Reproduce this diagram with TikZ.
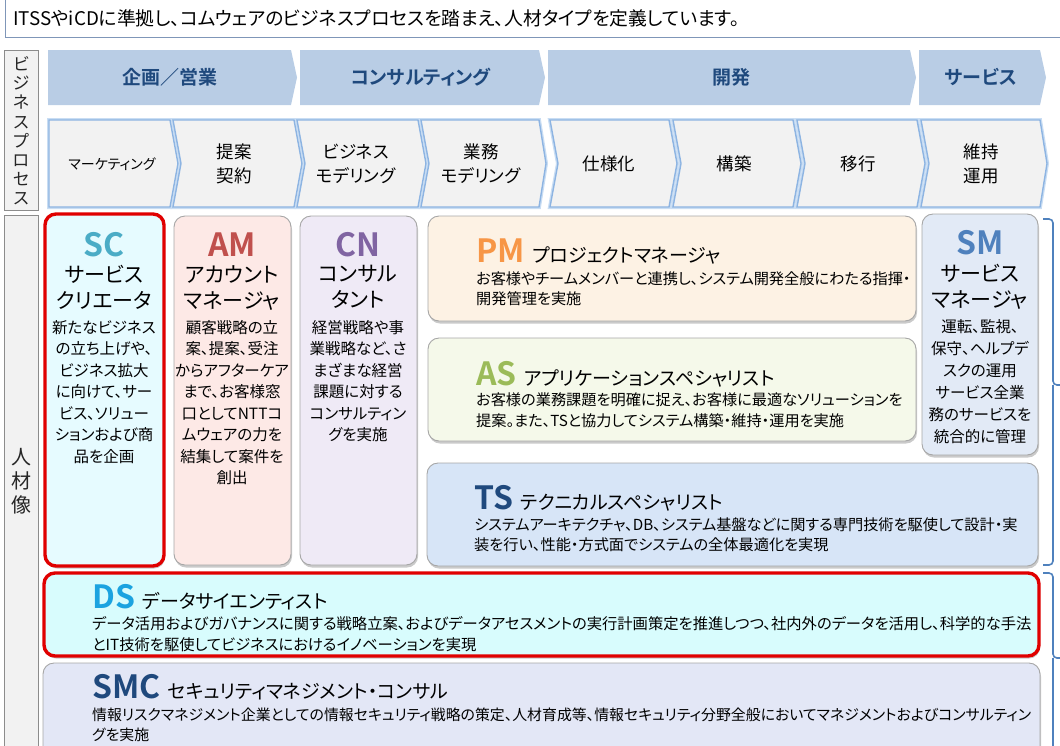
\documentclass[tikz,border=0pt]{standalone}
\usepackage{fontspec}
\setmainfont{Noto Sans CJK JP}[RawFeature=+palt, BoldFont={Noto Sans CJK JP Bold}]
\usetikzlibrary{shadows}
\definecolor{phasefill}{HTML}{B9CDE5}
\definecolor{phaseink}{HTML}{1F497D}
\definecolor{stepfill}{HTML}{F2F2F2}
\definecolor{stepglow}{HTML}{8DB4E2}
\definecolor{stepglowb}{HTML}{C9DDF3}
\definecolor{sidefill}{HTML}{F2F2F2}
\definecolor{sideedge}{HTML}{8C8C8C}
\definecolor{boxedge}{HTML}{A6A6A6}
\definecolor{redline}{HTML}{E00000}
\definecolor{introedge}{HTML}{7F96B8}
\definecolor{braceblue}{HTML}{4F81BD}
\definecolor{scfill}{HTML}{E6FBFF}
\definecolor{amfill}{HTML}{FDE9E6}
\definecolor{cnfill}{HTML}{EFEAF6}
\definecolor{pmfill}{HTML}{FDF2E4}
\definecolor{asfill}{HTML}{F5F9EA}
\definecolor{smfill}{HTML}{E2EAF6}
\definecolor{tsfill}{HTML}{D7E5F7}
\definecolor{dsfill}{HTML}{D8FCFD}
\definecolor{smcfill}{HTML}{E3E7F6}
\definecolor{sccol}{HTML}{4BACC6}
\definecolor{amcol}{HTML}{C0504D}
\definecolor{cncol}{HTML}{8064A2}
\definecolor{pmcol}{HTML}{F79646}
\definecolor{ascol}{HTML}{9BBB59}
\definecolor{smcol}{HTML}{4F81BD}
\definecolor{tscol}{HTML}{1F497D}
\definecolor{dscol}{HTML}{1BA3E0}
\definecolor{smccol}{HTML}{1F497D}
\begin{document}
\begin{tikzpicture}[x=1pt,y=-1pt,
  jp/.style={inner sep=0pt, text=black},
  phasechev/.style={fill=phasefill},
  phaselbl/.style={jp, text=phaseink, font=\bfseries\fontsize{19}{22}\selectfont},
  stepchev/.style={fill=stepfill, draw=stepglow, line width=1.4pt, line join=miter,
     preaction={draw=stepglowb, line width=4pt}},
  steplbl/.style={jp, align=center, font=\fontsize{17.5}{24}\selectfont},
  sidebox/.style={fill=sidefill, draw=sideedge, line width=0.9pt},
  sidelbl/.style={jp, align=center, text=black!85},
  pbox/.style={rounded corners=11pt, draw=boxedge, line width=0.9pt,
     drop shadow={shadow xshift=1pt, shadow yshift=-2.5pt, opacity=0.35, fill=black!60}},
  redbox/.style={pbox, draw=redline, line width=3.4pt},
  ttl/.style={jp, font=\bfseries\fontsize{32}{32}\selectfont},
  nm/.style={jp, align=center, font=\fontsize{21}{26}\selectfont},
  dsc/.style={jp, align=center, font=\fontsize{15.5}{21.5}\selectfont},
  inm/.style={jp, font=\fontsize{19}{19}\selectfont},
  idsc/.style={jp, align=left, font=\fontsize{15.2}{20.5}\selectfont},
  bracestyle/.style={draw=braceblue, line width=1.6pt, rounded corners=4pt}
]
\useasboundingbox (0,0) rectangle (1060,745);
\clip (0,0) rectangle (1060,745);

% intro box
\path[fill=white, draw=introedge, line width=1pt] (5,-3) rectangle (1064,37);
\node[jp, anchor=west, font=\fontsize{18.8}{19}\selectfont] (intro) at (13,18)
  {ITSSやiCDに準拠し、コムウェアのビジネスプロセスを踏まえ、人材タイプを定義しています。};

% side labels
\path[sidebox] (4,50) rectangle (38,210);
\node[sidelbl, font=\fontsize{17}{19.2}\selectfont] (bp) at (21,131)
  {ビ\\ジ\\ネ\\ス\\プ\\ロ\\セ\\ス};
\path[sidebox] (4,215) rectangle (38,760);
\node[sidelbl, font=\fontsize{20}{24}\selectfont] (jz) at (21,481) {人\\材\\像};

% phase chevrons
\path[phasechev] (48,50) -- (291,50) -- (297,77.5) -- (291,105) -- (48,105) -- cycle;
\path[phasechev] (300,50) -- (539,50) -- (545,77.5) -- (539,105) -- (300,105) -- cycle;
\path[phasechev] (548,50) -- (910,50) -- (916,77.5) -- (910,105) -- (548,105) -- cycle;
\path[phasechev] (919,50) -- (1040,50) -- (1046,77.5) -- (1040,105) -- (919,105) -- cycle;
\node[phaselbl] (ph1) at (170,77) {企画／営業};
\node[phaselbl] (ph2) at (421,77) {コンサルティング};
\node[phaselbl] (ph3) at (731,77) {開発};
\node[phaselbl] (ph4) at (981,77) {サービス};

% step chevrons
\path[stepchev] (49,120) -- (170,120) -- (178,163.5) -- (170,207) -- (49,207) -- cycle;
\path[stepchev] (173,120) -- (294,120) -- (302,163.5) -- (294,207) -- (173,207) -- (181,163.5) -- cycle;
\path[stepchev] (297,120) -- (418,120) -- (426,163.5) -- (418,207) -- (297,207) -- (305,163.5) -- cycle;
\path[stepchev] (421,120) -- (539,120) -- (546,163.5) -- (539,207) -- (421,207) -- (429,163.5) -- cycle;
\path[stepchev] (550,120) -- (669,120) -- (677,163.5) -- (669,207) -- (550,207) -- (558,163.5) -- cycle;
\path[stepchev] (673,120) -- (793,120) -- (801,163.5) -- (793,207) -- (673,207) -- (681,163.5) -- cycle;
\path[stepchev] (797,120) -- (917,120) -- (925,163.5) -- (917,207) -- (797,207) -- (805,163.5) -- cycle;
\path[stepchev] (921,120) -- (1040,120) -- (1047,163.5) -- (1040,207) -- (921,207) -- (929,163.5) -- cycle;
\node[steplbl, font=\fontsize{14}{16}\selectfont] (s1) at (112,164) {マーケティング};
\node[steplbl] (s2) at (234,164) {提案\\契約};
\node[steplbl] (s3) at (356,164) {ビジネス\\モデリング};
\node[steplbl] (s4) at (481,164) {業務\\モデリング};
\node[steplbl] (s5) at (609,164) {仕様化};
\node[steplbl] (s6) at (734,164) {構築};
\node[steplbl] (s7) at (858,164) {移行};
\node[steplbl] (s8) at (981,164) {維持\\運用};

% person boxes
\path[pbox, fill=amfill] (174,216) rectangle (291,565);
\path[pbox, fill=cnfill] (300,216) rectangle (417,565);
\path[pbox, fill=pmfill] (428,216) rectangle (916,321);
\path[pbox, fill=asfill] (428,338) rectangle (916,441);
\path[pbox, fill=smfill] (922,214) rectangle (1038,455);
\path[pbox, fill=tsfill] (427,463) rectangle (1038,566);
\path[pbox, fill=smcfill] (43,663) rectangle (1040,770);
\path[redbox, fill=scfill] (45,214) rectangle (164,566);
\path[redbox, fill=dsfill] (44,573) rectangle (1039,656);

% SC
\node[ttl, text=sccol] (sct) at (104,245) {SC};
\node[nm, anchor=north] (scn) at (104,265) {サービス\\クリエータ};
\node[dsc, anchor=north] (scd) at (104,320)
  {新たなビジネス\\の立ち上げや、\\ビジネス拡大\\に向けて、サー\\ビス、ソリュー\\ションおよび商\\品を企画};
% AM
\node[ttl, text=amcol] (amt) at (232,245) {AM};
\node[nm, anchor=north] (amn) at (232,265) {アカウント\\マネージャ};
\node[dsc, anchor=north] (amd) at (232,320)
  {顧客戦略の立\\案、提案、受注\\からアフターケア\\まで、お客様窓\\口としてNTTコ\\ムウェアの力を\\結集して案件を\\創出};
% CN
\node[ttl, text=cncol] (cnt) at (358,245) {CN};
\node[nm, anchor=north] (cnn) at (358,265) {コンサル\\タント};
\node[dsc, anchor=north] (cnd) at (358,320)
  {経営戦略や事\\業戦略など、さ\\まざまな経営\\課題に対する\\コンサルティン\\グを実施};
% SM
\node[ttl, text=smcol] (smt) at (980,243) {SM};
\node[nm, anchor=north] (smn) at (980,264) {サービス\\マネージャ};
\node[dsc, anchor=north, font=\fontsize{15.5}{22}\selectfont] (smd) at (980,319)
  {運転、監視、\\保守、ヘルプデ\\スクの運用\\サービス全業\\務のサービスを\\統合的に管理};

% PM
\node[ttl, text=pmcol, anchor=base west] (pmt) at (476,262) {PM};
\node[inm, anchor=base west] (pmn) at ([xshift=7pt]pmt.base east) {プロジェクトマネージャ};
\node[idsc, anchor=north west] (pmd) at (476,271)
  {お客様やチームメンバーと連携し、システム開発全般にわたる指揮・\\開発管理を実施};
% AS
\node[ttl, text=ascol, anchor=base west] (ast) at (476,385.5) {AS};
\node[inm, anchor=base west] (asn) at ([xshift=7pt]ast.base east) {アプリケーションスペシャリスト};
\node[idsc, anchor=north west] (asd) at (476,393)
  {お客様の業務課題を明確に捉え、お客様に最適なソリューションを\\提案。また、TSと協力してシステム構築・維持・運用を実施};
% TS
\node[ttl, text=tscol, anchor=base west] (tst) at (474,509.5) {TS};
\node[inm, anchor=base west] (tsn) at ([xshift=7pt]tst.base east) {テクニカルスペシャリスト};
\node[idsc, anchor=north west] (tsd) at (474,517)
  {システムアーキテクチャ、DB、システム基盤などに関する専門技術を駆使して設計・実\\装を行い、性能・方式面でシステムの全体最適化を実現};
% DS
\node[ttl, text=dscol, anchor=base west] (dst) at (92,608.5) {DS};
\node[inm, anchor=base west] (dsn) at ([xshift=7pt]dst.base east) {データサイエンティスト};
\node[idsc, anchor=north west, font=\fontsize{15.3}{20.5}\selectfont] (dsd) at (92,616.5)
  {データ活用およびガバナンスに関する戦略立案、およびデータアセスメントの実行計画策定を推進しつつ、社内外のデータを活用し、科学的な手法\\とIT技術を駆使してビジネスにおけるイノベーションを実現};
% SMC
\node[ttl, text=smccol, anchor=base west] (smct) at (92,698.5) {SMC};
\node[inm, anchor=base west] (smcn) at ([xshift=7pt]smct.base east) {セキュリティマネジメント・コンサル};
\node[idsc, anchor=north west, font=\fontsize{14.9}{20.5}\selectfont] (smcd) at (92,707.5)
  {情報リスクマネジメント企業としての情報セキュリティ戦略の策定、人材育成等、情報セキュリティ分野全般においてマネジメントおよびコンサルティン\\グを実施};

% braces
\coordinate (b1a) at (1043,219);
\coordinate (b1b) at (1043,565);
\coordinate (b1t) at (1066,385);
\coordinate (b2a) at (1043,573);
\coordinate (b2b) at (1043,790);
\coordinate (b2t) at (1066,658);
\draw[bracestyle] (b1a) -| (1053,385) -- (b1t);
\draw[bracestyle] (b1b) -| (1053,385);
\draw[bracestyle] (b2a) -| (1053,658) -- (b2t);
\draw[bracestyle] (b2b) -| (1053,658);
\end{tikzpicture}
\end{document}
